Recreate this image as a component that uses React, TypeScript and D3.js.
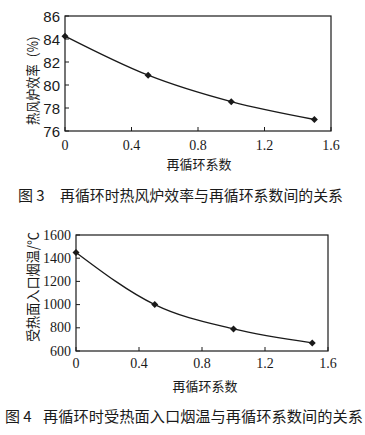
import React from "react";
import * as d3 from "d3";

const xValues = [0, 0.5, 1.0, 1.5];
const efficiency = [84.25, 80.85, 78.55, 77.0];
const gasTemp = [1450, 1000, 790, 670];
const xTicks = [0, 0.4, 0.8, 1.2, 1.6];
const yTicks1 = [76, 78, 80, 82, 84, 86];
const yTicks2 = [600, 800, 1000, 1200, 1400, 1600];
const xLabel = "再循环系数";
const yLabel1 = "热风炉效率（%）";
const yLabel2 = "受热面入口烟温/℃";
const caption1Num = "图 3";
const caption1 = "再循环时热风炉效率与再循环系数间的关系";
const caption2Num = "图 4";
const caption2 = "再循环时受热面入口烟温与再循环系数间的关系";

const SERIF = "'Liberation Serif', 'DejaVu Serif', serif";
const SANS = "'Liberation Sans', Arial, sans-serif";
const CJK = "'Noto Sans CJK SC', sans-serif";
const INK = "#1a1a1a";

function Chart(props: {
  values: number[];
  yTicks: number[];
  yDomain: [number, number];
  left: number; right: number; top: number; bottom: number;
  yTickFont: string; yTickSize: number;
  xTickY: number;
  yLabel: string; yLabelX: number; yLabelY: number; yLabelLen: number;
  xLabelY: number; xLabelX: number;
}) {
  const p = props;
  const x = d3.scaleLinear().domain([0, 1.6]).range([p.left, p.right]);
  const y = d3.scaleLinear().domain(p.yDomain).range([p.bottom, p.top]);
  const line = d3
    .line<number>()
    .x((_, i) => x(xValues[i]))
    .y((d) => y(d))
    .curve(d3.curveMonotoneX);
  return (
    <g>
      <rect x={p.left} y={p.top} width={p.right - p.left} height={p.bottom - p.top}
        fill="none" stroke={INK} strokeWidth={1.2} />
      {xTicks.map((t) => (
        <g key={"x" + t}>
          <line x1={x(t)} x2={x(t)} y1={p.bottom} y2={p.bottom - 4} stroke={INK} strokeWidth={1} />
          <text x={x(t)} y={p.xTickY} textAnchor="middle" dominantBaseline="central"
            fontFamily={SERIF} fontSize={14} fill={INK}>{t === 0 ? "0" : t.toFixed(1)}</text>
        </g>
      ))}
      {p.yTicks.map((t) => (
        <g key={"y" + t}>
          <line x1={p.left} x2={p.left + 4} y1={y(t)} y2={y(t)} stroke={INK} strokeWidth={1} />
          <text x={p.left - 5} y={y(t)} textAnchor="end" dominantBaseline="central"
            fontFamily={p.yTickFont} fontSize={p.yTickSize} fill={INK}>{String(t)}</text>
        </g>
      ))}
      <path d={line(p.values) || ""} fill="none" stroke={INK} strokeWidth={1.3} />
      {p.values.map((v, i) => {
        const cx = x(xValues[i]);
        const cy = y(v);
        const s = 3.5;
        return (
          <path key={"m" + i}
            d={`M${cx},${cy - s}L${cx + s},${cy}L${cx},${cy + s}L${cx - s},${cy}Z`}
            fill={INK} />
        );
      })}
      <text x={p.xLabelX} y={p.xLabelY} textAnchor="middle" dominantBaseline="central"
        fontFamily={CJK} fontSize={13} fill={INK}>{xLabel}</text>
      <text transform={`translate(${p.yLabelX},${p.yLabelY}) rotate(-90)`} textAnchor="middle"
        dominantBaseline="central" fontFamily={CJK} fontSize={14} fill={INK}
        textLength={p.yLabelLen} lengthAdjust="spacingAndGlyphs">{p.yLabel}</text>
    </g>
  );
}

export default function App() {
  return (
    <svg width={365} height={435} style={{ position: "absolute", left: 0, top: 0, background: "#fff" }}>
      <rect x={0} y={0} width={365} height={435} fill="#fff" />
      <Chart values={efficiency} yTicks={yTicks1} yDomain={[76, 86]}
        left={65} right={331} top={16} bottom={131}
        yTickFont={SANS} yTickSize={15} xTickY={145}
        yLabel={yLabel1} yLabelX={32} yLabelY={77} yLabelLen={96}
        xLabelX={199} xLabelY={163} />
      <text x={18} y={194} dominantBaseline="central" fontFamily={CJK} fontSize={15} fill={INK}>{caption1Num}</text>
      <text x={60} y={194} dominantBaseline="central" fontFamily={CJK} fontSize={14.9} fill={INK}
        textLength={283} lengthAdjust="spacingAndGlyphs">{caption1}</text>
      <Chart values={gasTemp} yTicks={yTicks2} yDomain={[600, 1600]}
        left={76} right={328} top={235} bottom={351}
        yTickFont={SERIF} yTickSize={14} xTickY={363}
        yLabel={yLabel2} yLabelX={32} yLabelY={287} yLabelLen={110}
        xLabelX={205} xLabelY={385} />
      <text x={5} y={415} dominantBaseline="central" fontFamily={CJK} fontSize={15} fill={INK}>{caption2Num}</text>
      <text x={43} y={415} dominantBaseline="central" fontFamily={CJK} fontSize={15} fill={INK}
        textLength={320} lengthAdjust="spacingAndGlyphs">{caption2}</text>
    </svg>
  );
}
